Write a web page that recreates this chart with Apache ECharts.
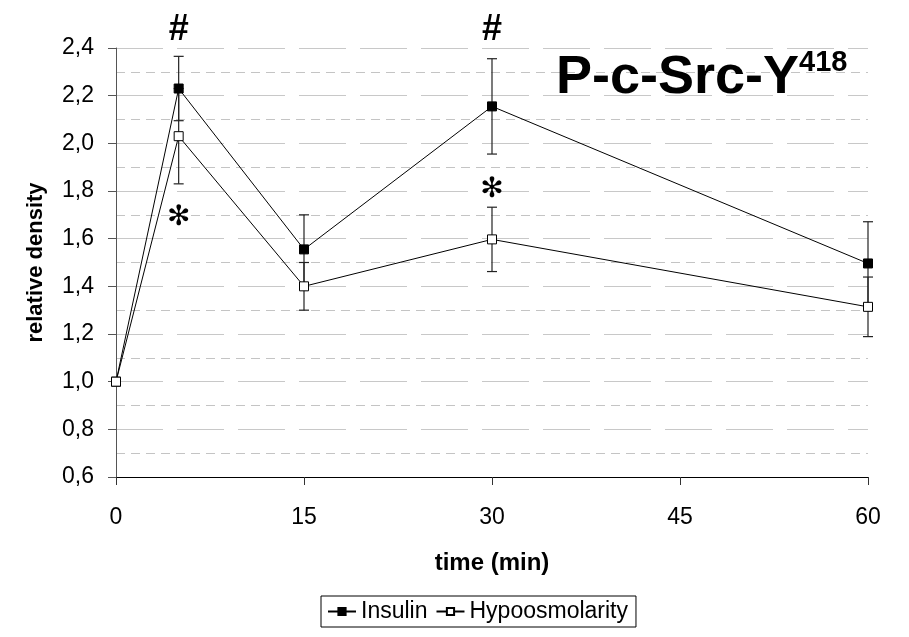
<!DOCTYPE html>
<html>
<head>
<meta charset="utf-8">
<script src="https://cdn.jsdelivr.net/npm/echarts@6/dist/echarts.min.js"></script>
<style>
  html, body { margin: 0; padding: 0; background: #fff; }
  #chart { width: 909px; height: 637px; }
</style>
</head>
<body>
<div id="chart"></div>
<script>
// time points (min)
const times = [0, 5, 15, 30, 60];
const insulin = [1.0, 2.23, 1.555, 2.155, 1.496];
const insulinErr = [0, 0.135, 0.145, 0.2, 0.175];
const hypo = [1.0, 2.03, 1.40, 1.597, 1.314];
const hypoErr = [0, 0.2, 0.1, 0.135, 0.125];
// significance marks [time, y]
const hashMarks = [[5, 2.475], [30, 2.475]];
const starMarks = [[5, 1.686], [30, 1.804]];

const font = 'Liberation Sans, Arial, sans-serif';

function pairs(ys) {
  return times.map((t, i) => [t, ys[i]]);
}
function errData(ys, es) {
  return times.map((t, i) => [t, ys[i] - es[i], ys[i] + es[i]]);
}
function errRender(params, api) {
  const lo = api.coord([api.value(0), api.value(1)]);
  const hi = api.coord([api.value(0), api.value(2)]);
  if (Math.abs(hi[1] - lo[1]) < 1) return null;
  const w = 5;
  const style = { stroke: '#222', lineWidth: 1.2 };
  return {
    type: 'group',
    children: [
      { type: 'line', shape: { x1: lo[0], y1: lo[1], x2: hi[0], y2: hi[1] }, style },
      { type: 'line', shape: { x1: lo[0] - w, y1: lo[1], x2: lo[0] + w, y2: lo[1] }, style },
      { type: 'line', shape: { x1: hi[0] - w, y1: hi[1], x2: hi[0] + w, y2: hi[1] }, style }
    ]
  };
}
function markSeries(data, text, size, family) {
  return {
    type: 'scatter',
    data: data,
    symbolSize: 0,
    clip: false,
    silent: true,
    itemStyle: { color: '#000', opacity: 1 },
    label: {
      show: true,
      position: 'inside',
      formatter: text,
      color: '#000',
      opacity: 1,
      textBorderWidth: 0,
      fontSize: size,
      fontWeight: 'bold',
      fontFamily: family
    },
    z: 4
  };
}

const chart = echarts.init(document.getElementById('chart'));
chart.setOption({
  animation: false,
  backgroundColor: '#fff',
  textStyle: { fontFamily: font },
  title: {
    left: 551,
    top: 43,
    text: '{a|P-c-Src-Y}{b|418}',
    textStyle: {
      rich: {
        a: { fontSize: 54, fontWeight: 'bold', color: '#000', fontFamily: font, lineHeight: 60 },
        b: { fontSize: 29, fontWeight: 'bold', color: '#000', fontFamily: font, verticalAlign: 'top', lineHeight: 60, padding: [0, 0, 14, 0] }
      }
    }
  },
  grid: { left: 116, right: 41, top: 48, bottom: 160 },
  legend: {
    left: 321,
    top: 596,
    padding: [4, 8, 4, 6],
    borderColor: '#000',
    borderWidth: 1,
    itemGap: 8,
    itemWidth: 28,
    itemHeight: 9,
    textStyle: { fontSize: 23, color: '#000', fontFamily: font },
    data: ['Insulin', 'Hypoosmolarity']
  },
  xAxis: {
    type: 'value',
    min: 0,
    max: 60,
    interval: 15,
    name: 'time (min)',
    nameLocation: 'middle',
    nameGap: 74,
    nameTextStyle: { fontSize: 24, fontWeight: 'bold', color: '#000' },
    axisLine: { onZero: false, lineStyle: { color: '#000', width: 1 } },
    axisTick: { show: true, length: 8, lineStyle: { color: '#333' } },
    axisLabel: { fontSize: 23, color: '#000', margin: 29 },
    splitLine: { show: false }
  },
  yAxis: {
    type: 'value',
    min: 0.6,
    max: 2.4,
    interval: 0.2,
    name: 'relative density',
    nameLocation: 'middle',
    nameGap: 69,
    nameTextStyle: { fontSize: 22, fontWeight: 'bold', color: '#000' },
    axisLine: { show: true, lineStyle: { color: '#555', width: 1 } },
    axisTick: { show: true, length: 8, lineStyle: { color: '#555' } },
    axisLabel: {
      fontSize: 23,
      color: '#000',
      margin: 22,
      formatter: v => v.toFixed(1).replace('.', ',')
    },
    splitLine: { show: true, lineStyle: { color: '#c8c8c8', width: 1, type: [47, 14] } },
    minorTick: { show: false, splitNumber: 2 },
    minorSplitLine: { show: true, lineStyle: { color: '#c4c4c4', width: 1, type: [9, 6] } }
  },
  series: [
    {
      name: 'Insulin',
      type: 'line',
      data: pairs(insulin),
      symbol: 'rect',
      symbolSize: 9,
      itemStyle: { color: '#000', borderColor: '#000', borderWidth: 1 },
      lineStyle: { color: '#000', width: 1 },
      z: 3
    },
    {
      name: 'Hypoosmolarity',
      type: 'line',
      data: pairs(hypo),
      symbol: 'rect',
      symbolSize: 9,
      itemStyle: { color: '#fff', borderColor: '#000', borderWidth: 1 },
      lineStyle: { color: '#000', width: 1 },
      z: 3
    },
    {
      type: 'custom',
      data: errData(insulin, insulinErr),
      renderItem: errRender,
      encode: { x: 0, y: [1, 2] },
      z: 2
    },
    {
      type: 'custom',
      data: errData(hypo, hypoErr),
      renderItem: errRender,
      encode: { x: 0, y: [1, 2] },
      z: 2
    },
    markSeries(hashMarks, '#', 36, font),
    markSeries(starMarks, '✻', 28, 'DejaVu Sans, sans-serif')
  ]
});
</script>
</body>
</html>
